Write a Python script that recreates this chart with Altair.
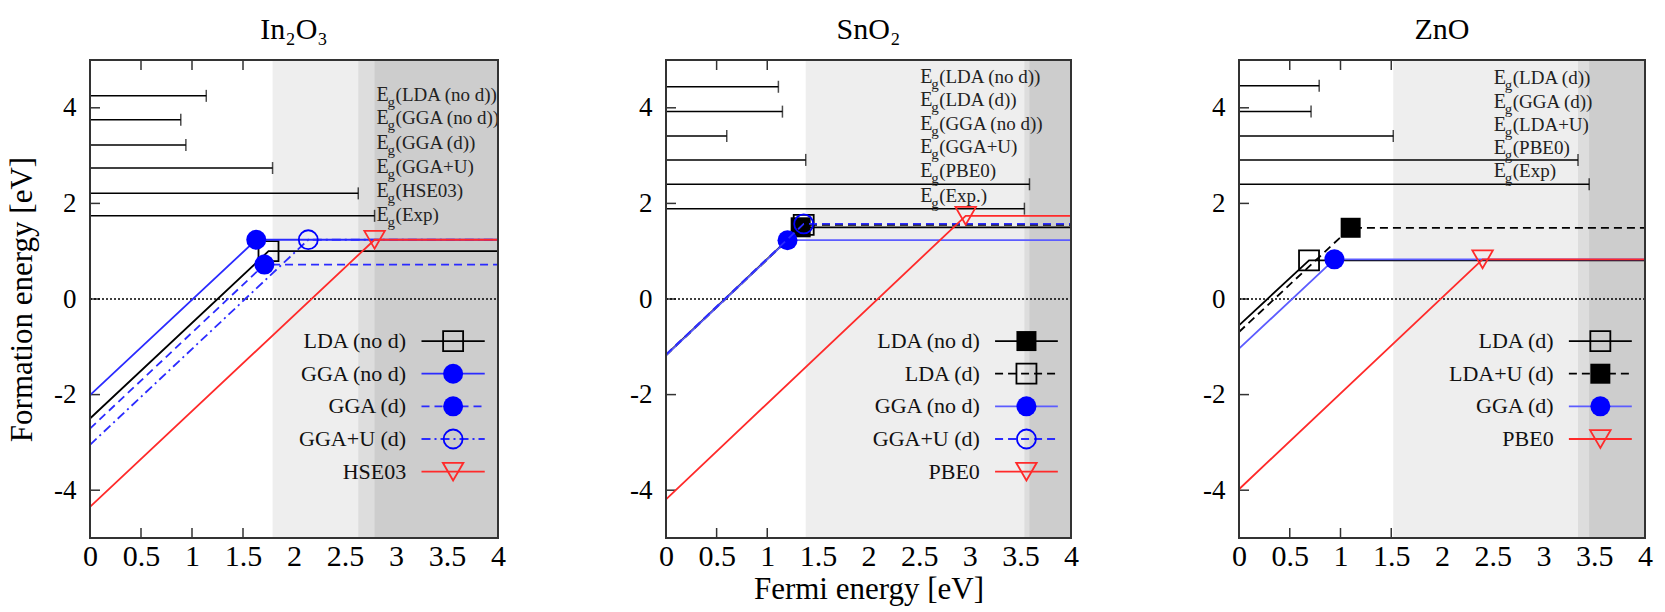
import altair as alt
import pandas as pd

FONT = "Liberation Serif"

# ---------------- shared axis ticks ----------------
X_TICKS = [0, 0.5, 1, 1.5, 2, 2.5, 3, 3.5, 4]
Y_TICKS = [-4, -2, 0, 2, 4]

# ---------------- In2O3 ----------------
IN_TITLE = "In₂O₃"
IN_GAP_NAMES = ["LDA (no d)", "GGA (no d)", "GGA (d)", "GGA+U", "HSE03", "Exp"]
IN_GAP_VALUES = [1.14, 0.89, 0.94, 1.79, 2.63, 2.79]
IN_GAP_BAR_Y = [4.25, 3.75, 3.22, 2.74, 2.21, 1.74]
IN_GAP_LABEL_Y = [4.27, 3.78, 3.27, 2.77, 2.25, 1.76]
IN_GAP_LABEL_X = 2.81
IN_SHADE_FROM = [1.79, 2.63, 2.79]
IN_SERIES = ["LDA (no d)", "GGA (no d)", "GGA (d)", "GGA+U (d)", "HSE03"]
IN_INTERCEPT = [-2.50, -2.01, -2.71, -3.05, -4.35]
IN_TRANSITION = [1.75, 1.63, 1.71, 2.14, 2.79]
IN_PLATEAU = [1.00, 1.24, 0.72, 1.24, 1.24]

# ---------------- SnO2 ----------------
SN_TITLE = "SnO₂"
SN_GAP_NAMES = ["LDA (no d)", "LDA (d)", "GGA (no d)", "GGA+U", "PBE0", "Exp."]
SN_GAP_VALUES = [1.11, 1.15, 0.60, 1.38, 3.59, 3.54]
SN_GAP_BAR_Y = [4.44, 3.92, 3.41, 2.91, 2.40, 1.89]
SN_GAP_LABEL_Y = [4.65, 4.16, 3.66, 3.17, 2.67, 2.16]
SN_GAP_LABEL_X = 2.51
SN_SHADE_FROM = [1.38, 3.54, 3.59]
SN_SERIES = ["LDA (no d)", "LDA (d)", "GGA (no d)", "GGA+U (d)", "PBE0"]
SN_INTERCEPT = [-1.17, -1.18, -1.18, -1.16, -4.19]
SN_TRANSITION = [1.33, 1.36, 1.20, 1.36, 2.96]
SN_PLATEAU = [1.50, 1.55, 1.23, 1.57, 1.74]

# ---------------- ZnO ----------------
ZN_TITLE = "ZnO"
ZN_GAP_NAMES = ["LDA (d)", "GGA (d)", "LDA+U", "PBE0", "Exp"]
ZN_GAP_VALUES = [0.79, 0.71, 1.52, 3.34, 3.45]
ZN_GAP_BAR_Y = [4.46, 3.92, 3.41, 2.91, 2.40]
ZN_GAP_LABEL_Y = [4.62, 4.13, 3.64, 3.16, 2.67]
ZN_GAP_LABEL_X = 2.51
ZN_SHADE_FROM = [1.52, 3.34, 3.45]
ZN_SERIES = ["LDA (d)", "LDA+U (d)", "GGA (d)", "PBE0"]
ZN_INTERCEPT = [-0.55, -0.69, -1.04, -3.98]
ZN_TRANSITION = [0.69, 1.10, 0.94, 2.40]
ZN_PLATEAU = [0.81, 1.49, 0.83, 0.83]

# ---------------- styles (kept apart from data) ----------------
BLACK = "#000000"
BLUE_LINE = "#2b2bff"
BLUE_LIGHT = "#5c5cff"
BLUE_MARK = "#0000ff"
RED = "#ff2a2a"
DASH = [8, 5]
DASHDOT = [9, 4, 2, 4]

STYLE = {
    "k_solid_sq_open": dict(color=BLACK, dash=None, shape="square", filled=False, mcolor=BLACK, size=400),
    "k_solid_sq_fill": dict(color=BLACK, dash=None, shape="square", filled=True, mcolor=BLACK, size=400),
    "k_dash_sq_open": dict(color=BLACK, dash=DASH, shape="square", filled=False, mcolor=BLACK, size=400),
    "k_dash_sq_fill": dict(color=BLACK, dash=DASH, shape="square", filled=True, mcolor=BLACK, size=400),
    "b_solid_ci_fill": dict(color=BLUE_LINE, dash=None, shape="circle", filled=True, mcolor=BLUE_MARK, size=400),
    "bl_solid_ci_fill": dict(color=BLUE_LIGHT, dash=None, shape="circle", filled=True, mcolor=BLUE_MARK, size=400),
    "b_dash_ci_fill": dict(color=BLUE_LINE, dash=DASH, shape="circle", filled=True, mcolor=BLUE_MARK, size=400),
    "b_dash_ci_open": dict(color=BLUE_LINE, dash=DASH, shape="circle", filled=False, mcolor=BLUE_MARK, size=360),
    "b_dashdot_ci_open": dict(color=BLUE_LINE, dash=DASHDOT, shape="circle", filled=False, mcolor=BLUE_MARK, size=360),
    "r_solid_tri_open": dict(color=RED, dash=None, shape="triangle-down", filled=False, mcolor=RED, size=420),
}
IN_STYLE = ["k_solid_sq_open", "b_solid_ci_fill", "b_dash_ci_fill", "b_dashdot_ci_open", "r_solid_tri_open"]
SN_STYLE = ["k_solid_sq_fill", "k_dash_sq_open", "bl_solid_ci_fill", "b_dash_ci_open", "r_solid_tri_open"]
ZN_STYLE = ["k_solid_sq_open", "k_dash_sq_fill", "bl_solid_ci_fill", "r_solid_tri_open"]

SHADE_COLORS = ["#eeeeee", "#dddddd", "#cdcdcd"]
H = 478
LEG_TEXT_X, LEG_LINE_X0, LEG_LINE_X1, LEG_MARK_X = 3.10, 3.25, 3.87, 3.56
LEG_Y0, LEG_STEP = -0.88, 0.683


def panel(title, W, gap_names, gap_values, bar_y, label_y, label_x, shade_from,
          series, intercept, transition, plateau, styles, y_title, x_title):
    xs = alt.Scale(domain=[0, 4], nice=False, zero=False)
    ys = alt.Scale(domain=[-5, 5], nice=False, zero=False)

    x_axis = alt.Axis(values=X_TICKS, labelExpr="toString(datum.value)", ticks=False, tickSize=0,
                      domain=False, grid=False, labelFont=FONT, labelFontSize=30, labelPadding=3,
                      labelColor="black", labelFlush=False, labelOverlap=False,
                      title=x_title, titleFont=FONT, titleFontSize=31, titleFontWeight="normal",
                      titleColor="black", titlePadding=3)
    y_axis = alt.Axis(values=Y_TICKS, labelExpr="toString(datum.value)", ticks=False, tickSize=0,
                      domain=False, grid=False, labelFont=FONT, labelFontSize=27, labelPadding=14,
                      labelColor="black", labelFlush=False, labelOverlap=False,
                      title=y_title, titleFont=FONT, titleFontSize=31, titleFontWeight="normal",
                      titleColor="black", titlePadding=15)
    X = lambda f: alt.X(f, scale=xs, axis=x_axis)
    Y = lambda f: alt.Y(f, scale=ys, axis=y_axis)

    layers = []
    xt = pd.DataFrame({"x": X_TICKS})
    yt = pd.DataFrame({"y": Y_TICKS})
    tick_kw = dict(color="#333333", strokeWidth=1.5)
    layers.append(alt.Chart(xt).mark_rule(**tick_kw).encode(
        x=X("x:Q"), y=alt.value(0), y2=alt.value(10)))
    layers.append(alt.Chart(xt).mark_rule(**tick_kw).encode(
        x=X("x:Q"), y=alt.value(H - 10), y2=alt.value(H)))
    layers.append(alt.Chart(yt).mark_rule(**tick_kw).encode(
        y=Y("y:Q"), x=alt.value(0), x2=alt.value(10)))
    layers.append(alt.Chart(yt).mark_rule(**tick_kw).encode(
        y=Y("y:Q"), x=alt.value(W - 10), x2=alt.value(W)))

    # shaded band-gap regions
    sh = pd.DataFrame({"x0": shade_from, "x1": [4] * len(shade_from), "c": SHADE_COLORS})
    layers.append(alt.Chart(sh).mark_rect().encode(
        x=X("x0:Q"), x2="x1:Q", y=alt.value(0), y2=alt.value(H),
        color=alt.Color("c:N", scale=None)))

    # zero line
    layers.append(alt.Chart(pd.DataFrame({"y": [0]})).mark_rule(
        color="black", strokeWidth=1.4, strokeDash=[2, 2]).encode(
        y=Y("y:Q"), x=alt.value(0), x2=alt.value(W)))

    # band gap bars
    gb = pd.DataFrame({"x0": [0] * len(gap_values), "x1": gap_values, "y": bar_y})
    layers.append(alt.Chart(gb).mark_rule(color="black", strokeWidth=1.5).encode(
        x=X("x0:Q"), x2="x1:Q", y=Y("y:Q")))
    layers.append(alt.Chart(gb).mark_tick(orient="vertical", size=12, thickness=1.5, color="black").encode(
        x=X("x1:Q"), y=Y("y:Q")))

    # E_g labels
    gl = pd.DataFrame({"x": [label_x] * len(gap_names), "y": label_y,
                       "t": ["(" + n + ")" for n in gap_names], "e": ["E"] * len(gap_names),
                       "g": ["g"] * len(gap_names)})
    tkw = dict(font=FONT, color="#222222", align="left", baseline="middle")
    layers.append(alt.Chart(gl).mark_text(fontSize=20, **tkw).encode(x=X("x:Q"), y=Y("y:Q"), text="e:N"))
    layers.append(alt.Chart(gl).mark_text(fontSize=15, dx=11, dy=7, **tkw).encode(x=X("x:Q"), y=Y("y:Q"), text="g:N"))
    layers.append(alt.Chart(gl).mark_text(fontSize=19, dx=19, **tkw).encode(x=X("x:Q"), y=Y("y:Q"), text="t:N"))

    # formation energy lines + markers + legend
    for i, name in enumerate(series):
        st = STYLE[styles[i]]
        line_kw = dict(color=st["color"], strokeWidth=1.8)
        if st["dash"] is not None:
            line_kw["strokeDash"] = st["dash"]
        mk_kw = dict(shape=st["shape"], filled=st["filled"], size=st["size"], color=st["mcolor"],
                     strokeWidth=1.8, opacity=1)
        ld = pd.DataFrame({"x": [0, transition[i], 4], "y": [intercept[i], plateau[i], plateau[i]],
                           "o": [0, 1, 2]})
        layers.append(alt.Chart(ld).mark_line(**line_kw).encode(
            x=X("x:Q"), y=Y("y:Q"), order=alt.Order("o:Q")))
        md = pd.DataFrame({"x": [transition[i]], "y": [plateau[i]]})
        layers.append(alt.Chart(md).mark_point(**mk_kw).encode(x=X("x:Q"), y=Y("y:Q")))

        ly = LEG_Y0 - i * LEG_STEP
        lg = pd.DataFrame({"x0": [LEG_LINE_X0], "x1": [LEG_LINE_X1], "xm": [LEG_MARK_X],
                           "xt": [LEG_TEXT_X], "y": [ly], "t": [name]})
        layers.append(alt.Chart(lg).mark_rule(**line_kw).encode(x=X("x0:Q"), x2="x1:Q", y=Y("y:Q")))
        layers.append(alt.Chart(lg).mark_point(**mk_kw).encode(x=X("xm:Q"), y=Y("y:Q")))
        layers.append(alt.Chart(lg).mark_text(font=FONT, fontSize=22, color="#111111", align="right",
                                              baseline="middle").encode(x=X("xt:Q"), y=Y("y:Q"), text="t:N"))

    # frame
    layers.append(alt.Chart(pd.DataFrame({"a": [0]})).mark_rect(
        fillOpacity=0, stroke="#333333", strokeWidth=2).encode(
        x=alt.value(0), x2=alt.value(W), y=alt.value(0), y2=alt.value(H)))

    return alt.layer(*layers).properties(
        width=W, height=H,
        title=alt.TitleParams(title, font=FONT, fontSize=30, fontWeight="normal", color="black", offset=14))


p1 = panel(IN_TITLE, 408, IN_GAP_NAMES, IN_GAP_VALUES, IN_GAP_BAR_Y, IN_GAP_LABEL_Y, IN_GAP_LABEL_X,
           IN_SHADE_FROM, IN_SERIES, IN_INTERCEPT, IN_TRANSITION, IN_PLATEAU, IN_STYLE,
           "Formation energy [eV]", None)
p2 = panel(SN_TITLE, 405, SN_GAP_NAMES, SN_GAP_VALUES, SN_GAP_BAR_Y, SN_GAP_LABEL_Y, SN_GAP_LABEL_X,
           SN_SHADE_FROM, SN_SERIES, SN_INTERCEPT, SN_TRANSITION, SN_PLATEAU, SN_STYLE,
           None, "Fermi energy [eV]")
p3 = panel(ZN_TITLE, 406, ZN_GAP_NAMES, ZN_GAP_VALUES, ZN_GAP_BAR_Y, ZN_GAP_LABEL_Y, ZN_GAP_LABEL_X,
           ZN_SHADE_FROM, ZN_SERIES, ZN_INTERCEPT, ZN_TRANSITION, ZN_PLATEAU, ZN_STYLE,
           None, None)

chart = alt.hconcat(p1, p2, p3, spacing=168, bounds="flush").properties(
    padding={"left": 6, "top": 15, "right": 5, "bottom": 5}
).configure_view(stroke=None).configure_axis(
    labelFont=FONT, titleFont=FONT
).configure_title(font=FONT).configure_text(font=FONT)

chart.save("out.html", embed_options={"renderer": "svg", "actions": False})
